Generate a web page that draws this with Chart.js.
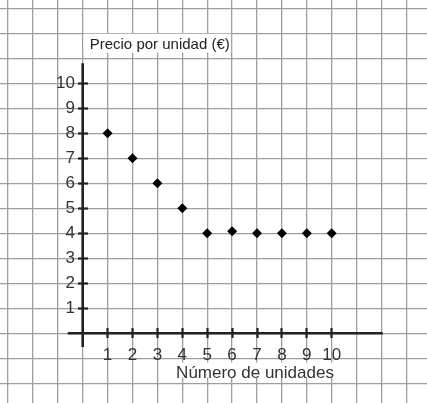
<!DOCTYPE html>
<html lang="es">
<head>
    <meta charset="UTF-8">
    <title>Precio por unidad</title>
    <script src="https://cdn.jsdelivr.net/npm/chart.js"></script>
    <style>
        body {
            margin: 0;
            padding: 0;
            background: #fff;
        }
        canvas {
            display: block;
        }
    </style>
</head>
<body>
    <canvas id="chart" width="427" height="403"></canvas>

    <script>
        // Datos
        const units = [1, 2, 3, 4, 5, 6, 7, 8, 9, 10];
        const prices = [8, 7, 6, 5, 4, 4.08, 4, 4, 4, 4];
        const xTickValues = [1, 2, 3, 4, 5, 6, 7, 8, 9, 10];
        const yTickValues = [1, 2, 3, 4, 5, 6, 7, 8, 9, 10];
        const xTitle = 'Número de unidades';
        const yTitle = 'Precio por unidad (€)';

        // rango visible (papel cuadriculado ocupa todo el lienzo)
        const X_MIN = -3.321, X_MAX = 13.827;
        const Y_MIN = -2.79, Y_MAX = 13.33;

        const gridColor = '#9e9e9e';
        const axisColor = '#222';
        const labelFont = { family: "'Liberation Sans', Arial, sans-serif", size: 17 };

        // los ejes centrados no deben reservar margen
        const noPadding = (s) => {
            s.paddingLeft = 0;
            s.paddingRight = 0;
            s.paddingTop = 0;
            s.paddingBottom = 0;
        };

        // ejes negros, y titulos con fondo blanco
        const axesPlugin = {
            id: 'axesPlugin',
            beforeDatasetsDraw(chart) {
                const ctx = chart.ctx;
                const x = chart.scales.x;
                const y = chart.scales.y;
                const x0 = x.getPixelForValue(0);
                const y0 = y.getPixelForValue(0);

                ctx.save();
                ctx.strokeStyle = axisColor;
                ctx.lineWidth = 2.6;
                ctx.beginPath();
                ctx.moveTo(x.getPixelForValue(-0.6), y0);
                ctx.lineTo(x.getPixelForValue(12.05), y0);
                ctx.moveTo(x0, y.getPixelForValue(10.8));
                ctx.lineTo(x0, y.getPixelForValue(-0.55));
                ctx.stroke();

                // titulo eje Y
                ctx.font = "15px 'Liberation Sans', Arial, sans-serif";
                ctx.fillStyle = '#fff';
                ctx.fillRect(x0 + 1, y.getPixelForValue(11.98), x.getPixelForValue(6) - x0 - 2, 19);
                ctx.fillStyle = '#222';
                ctx.textBaseline = 'alphabetic';
                ctx.textAlign = 'left';
                ctx.fillText(yTitle, x0 + 7, y.getPixelForValue(11.36));

                // titulo eje X
                ctx.font = "17px 'Liberation Sans', Arial, sans-serif";
                const w = ctx.measureText(xTitle).width;
                const cx = x.getPixelForValue(6.92);
                ctx.fillStyle = '#fff';
                ctx.fillRect(cx - w / 2 - 1, y.getPixelForValue(-1.17), w + 2, 15);
                ctx.fillStyle = '#333';
                ctx.textAlign = 'center';
                ctx.fillText(xTitle, cx, y.getPixelForValue(-1.8));
                ctx.restore();
            }
        };

        const ctx = document.getElementById('chart').getContext('2d');
        const chart = new Chart(ctx, {
            type: 'scatter',
            data: {
                datasets: [{
                    data: units.map((u, i) => ({ x: u, y: prices[i] })),
                    pointStyle: 'rectRot',
                    pointRadius: 5,
                    backgroundColor: '#000',
                    borderColor: '#000',
                    borderWidth: 0,
                    xAxisID: 'x',
                    yAxisID: 'y'
                }]
            },
            options: {
                responsive: false,
                animation: false,
                layout: { padding: 0, autoPadding: false },
                plugins: {
                    legend: { display: false },
                    tooltip: { enabled: false }
                },
                scales: {
                    x: {
                        type: 'linear',
                        min: X_MIN,
                        max: X_MAX,
                        ticks: { display: false, stepSize: 1, includeBounds: false },
                        grid: { color: gridColor, lineWidth: 1.3, drawTicks: false },
                        border: { display: false }
                    },
                    y: {
                        type: 'linear',
                        min: Y_MIN,
                        max: Y_MAX,
                        ticks: { display: false, stepSize: 1, includeBounds: false },
                        grid: { color: gridColor, lineWidth: 1.3, drawTicks: false },
                        border: { display: false }
                    },
                    // eje X: marcas y numeros
                    xa: {
                        type: 'linear',
                        axis: 'x',
                        position: { y: 0.2 },
                        min: X_MIN,
                        max: X_MAX,
                        afterBuildTicks: (s) => { s.ticks = xTickValues.map(v => ({ value: v })); },
                        afterFit: noPadding,
                        ticks: { color: '#333', font: labelFont, padding: 7 },
                        grid: { drawOnChartArea: false, tickLength: 10, tickWidth: 2.2, tickColor: axisColor },
                        border: { display: false }
                    },
                    // eje Y: marcas
                    ya: {
                        type: 'linear',
                        axis: 'y',
                        position: { x: 0.2 },
                        min: Y_MIN,
                        max: Y_MAX,
                        afterBuildTicks: (s) => { s.ticks = yTickValues.map(v => ({ value: v })); },
                        afterFit: noPadding,
                        ticks: { display: false },
                        grid: { drawOnChartArea: false, tickLength: 10, tickWidth: 2.2, tickColor: axisColor },
                        border: { display: false }
                    },
                    // eje Y: numeros
                    yl: {
                        type: 'linear',
                        axis: 'y',
                        position: { x: -0.31 },
                        min: Y_MIN,
                        max: Y_MAX,
                        afterBuildTicks: (s) => { s.ticks = yTickValues.map(v => ({ value: v })); },
                        afterFit: noPadding,
                        ticks: { color: '#333', font: labelFont, padding: 0 },
                        grid: { display: false, drawOnChartArea: false, drawTicks: false },
                        border: { display: false }
                    }
                }
            },
            plugins: [axesPlugin]
        });
    </script>
</body>
</html>
